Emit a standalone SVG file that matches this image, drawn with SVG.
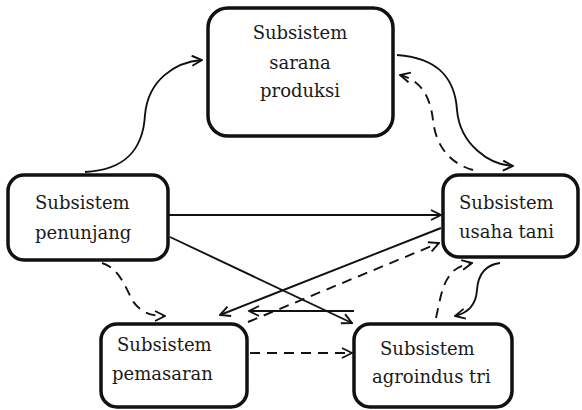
<svg xmlns="http://www.w3.org/2000/svg" width="582" height="410" viewBox="0 0 582 410">
  <style>
    .box { fill: #ffffff; stroke: #111111; stroke-width: 3.5; }
    .lbl { font-family: "DejaVu Serif", "Liberation Serif", serif; font-size: 18px; fill: #1a1a1a; }
    .c { fill: none; stroke: #111111; stroke-width: 1.9; marker-end: url(#arrow); }
    .d { stroke-dasharray: 10 7; }
  </style>
  <defs>
    <marker id="arrow" viewBox="0 0 12 12" refX="11" refY="6" markerWidth="12" markerHeight="12" markerUnits="userSpaceOnUse" orient="auto">
      <path d="M1,1 L11,6 L1,11" fill="none" stroke="#111111" stroke-width="1.9" stroke-linejoin="miter"/>
    </marker>
  </defs>

  <rect width="582" height="410" fill="#ffffff"/>

  <g id="connectors">
    <!-- penunjang -> sarana produksi -->
    <path class="c" d="M85,172 C125,170 143,150 145,115 C148,80 175,62 202,60"/>
    <!-- sarana produksi -> usaha tani -->
    <path class="c" d="M397,55 C440,58 455,80 457,110 C460,145 490,165 513,166"/>
    <!-- usaha tani -> sarana produksi (dashed) -->
    <path class="c d" d="M473,170 C445,162 435,140 433,120 C430,95 420,80 400,75"/>
    <!-- penunjang -> usaha tani -->
    <path class="c" d="M168,215 L441,215"/>
    <!-- penunjang -> agroindustri -->
    <path class="c" d="M170,237 L352,323"/>
    <!-- usaha tani -> pemasaran -->
    <path class="c" d="M441,228 L220,315"/>
    <!-- pemasaran -> usaha tani (dashed) -->
    <path class="c d" d="M248,322 L439,243"/>
    <!-- agroindustri -> pemasaran -->
    <path class="c" d="M354,311 L249,311"/>
    <!-- penunjang -> pemasaran (dashed) -->
    <path class="c d" d="M102,263 C118,268 125,285 132,300 C140,312 150,316 165,316"/>
    <!-- pemasaran -> agroindustri (dashed) -->
    <path class="c d" d="M250,353 L352,353"/>
    <!-- agroindustri -> usaha tani (dashed) -->
    <path class="c d" d="M436,318 C440,300 442,285 450,275 C455,268 462,265 472,263"/>
    <!-- usaha tani -> agroindustri -->
    <path class="c" d="M500,263 C485,265 478,275 477,290 C476,305 468,313 455,316"/>
  </g>

  <g id="sarana-produksi">
    <rect class="box" x="208" y="8" width="185" height="128" rx="20"/>
    <text class="lbl" x="300" y="39" text-anchor="middle">Subsistem</text>
    <text class="lbl" x="300" y="69" text-anchor="middle">sarana</text>
    <text class="lbl" x="300" y="97" text-anchor="middle">produksi</text>
  </g>

  <g id="penunjang">
    <rect class="box" x="8" y="175" width="160" height="85" rx="16"/>
    <text class="lbl" x="35" y="209">Subsistem</text>
    <text class="lbl" x="35" y="239">penunjang</text>
  </g>

  <g id="usaha-tani">
    <rect class="box" x="443" y="175" width="135" height="82" rx="16"/>
    <text class="lbl" x="459" y="209">Subsistem</text>
    <text class="lbl" x="459" y="238">usaha tani</text>
  </g>

  <g id="pemasaran">
    <rect class="box" x="101" y="324" width="146" height="83" rx="16"/>
    <text class="lbl" x="117" y="351">Subsistem</text>
    <text class="lbl" x="112" y="380">pemasaran</text>
  </g>

  <g id="agroindustri">
    <rect class="box" x="354" y="324" width="158" height="83" rx="16"/>
    <text class="lbl" x="380" y="355">Subsistem</text>
    <text class="lbl" x="372" y="383">agroindus tri</text>
  </g>
</svg>
